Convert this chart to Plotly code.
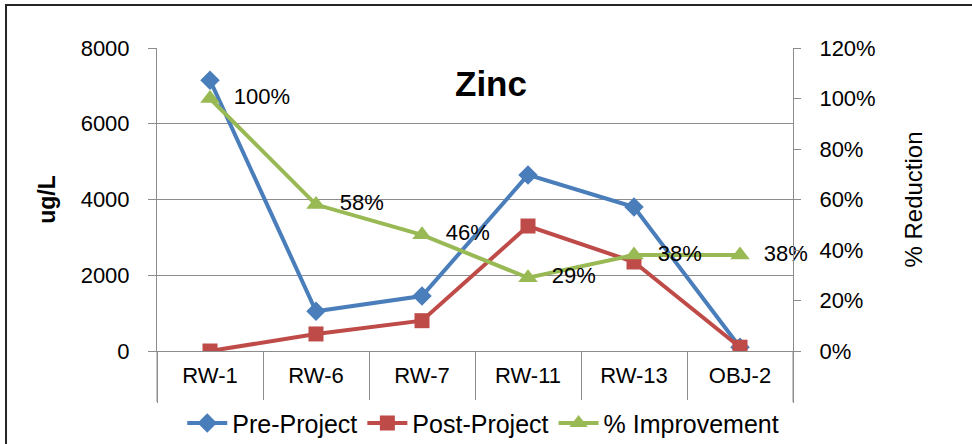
import plotly.graph_objects as go

wells = ["RW-1", "RW-6", "RW-7", "RW-11", "RW-13", "OBJ-2"]
pre_project = [7150, 1050, 1450, 4650, 3800, 100]
post_project = [0, 450, 800, 3300, 2350, 100]
improvement = [1.00, 0.58, 0.46, 0.29, 0.38, 0.38]
improvement_labels = ["100%", "58%", "46%", "29%", "38%", "38%"]

BLUE = "#4A7EBB"
RED = "#BE4B48"
GREEN = "#98B954"
GRID = "#8C8C8C"
FONT = "Liberation Sans"

fig = go.Figure()
fig.add_trace(go.Scatter(
    x=wells, y=pre_project, name="Pre-Project", mode="lines+markers",
    line=dict(color=BLUE, width=4), marker=dict(symbol="diamond", size=15, color=BLUE),
))
fig.add_trace(go.Scatter(
    x=wells, y=post_project, name="Post-Project", mode="lines+markers",
    line=dict(color=RED, width=4), marker=dict(symbol="square", size=15, color=RED),
))
fig.add_trace(go.Scatter(
    x=wells, y=improvement, name="% Improvement", mode="lines+markers+text", yaxis="y2",
    text=["  " + t for t in improvement_labels], textposition="middle right",
    textfont=dict(size=22, color="black", family=FONT), cliponaxis=False,
    line=dict(color=GREEN, width=4), marker=dict(symbol="triangle-up", size=17, color=GREEN),
))

fig.add_annotation(
    text="<b>Zinc</b>", x=0.525, y=0.883, xref="paper", yref="paper",
    xanchor="center", yanchor="middle",
    showarrow=False, font=dict(size=35, color="black", family=FONT),
)
# outer chart border
fig.add_shape(
    type="rect", xref="paper", yref="paper", x0=-0.2374, y0=1.142, x1=1.5, y1=-0.6,
    line=dict(color="#262626", width=2), layer="below",
)
# category band edges below the plot
for xe in (0, 1):
    fig.add_shape(
        type="line", xref="paper", yref="paper", x0=xe, x1=xe, y0=0, y1=-0.168,
        line=dict(color=GRID, width=1),
    )

fig.update_layout(
    width=972, height=444,
    margin=dict(l=157, r=179, t=48, b=93),
    plot_bgcolor="white", paper_bgcolor="white",
    font=dict(family=FONT, size=22, color="black"),
    showlegend=True,
    legend=dict(
        orientation="h", x=0.513, y=0.047, yref="container", xanchor="center", yanchor="middle",
        font=dict(size=25), itemwidth=40,
    ),
    xaxis=dict(
        range=[-0.5, len(wells) - 0.5],
        showgrid=False, showline=True, linecolor=GRID, linewidth=1, automargin=False,
        ticks="outside", tickson="boundaries", ticklen=51, tickcolor=GRID,
        ticklabelstandoff=5,
    ),
    yaxis=dict(
        range=[0, 8000], dtick=2000, showgrid=True, gridcolor=GRID, gridwidth=1,
        showline=True, linecolor=GRID, ticks="outside", ticklen=8, tickcolor=GRID,
        automargin=False, ticklabelstandoff=14,
        title=dict(text="<b>ug/L</b>", standoff=18, font=dict(size=23)),
        zeroline=False,
    ),
    yaxis2=dict(
        range=[0, 1.2], dtick=0.2, tickformat=".0%", overlaying="y", side="right",
        showgrid=False, showline=True, linecolor=GRID, ticks="outside", ticklen=7,
        tickcolor=GRID, zeroline=False, automargin=False, ticklabelstandoff=14,
        title=dict(text="% Reduction", standoff=30, font=dict(size=24)),
    ),
)

fig.write_html(
    "out.html",
    config={"displayModeBar": False},
    post_script="document.body.style.margin = '0px';",
)
